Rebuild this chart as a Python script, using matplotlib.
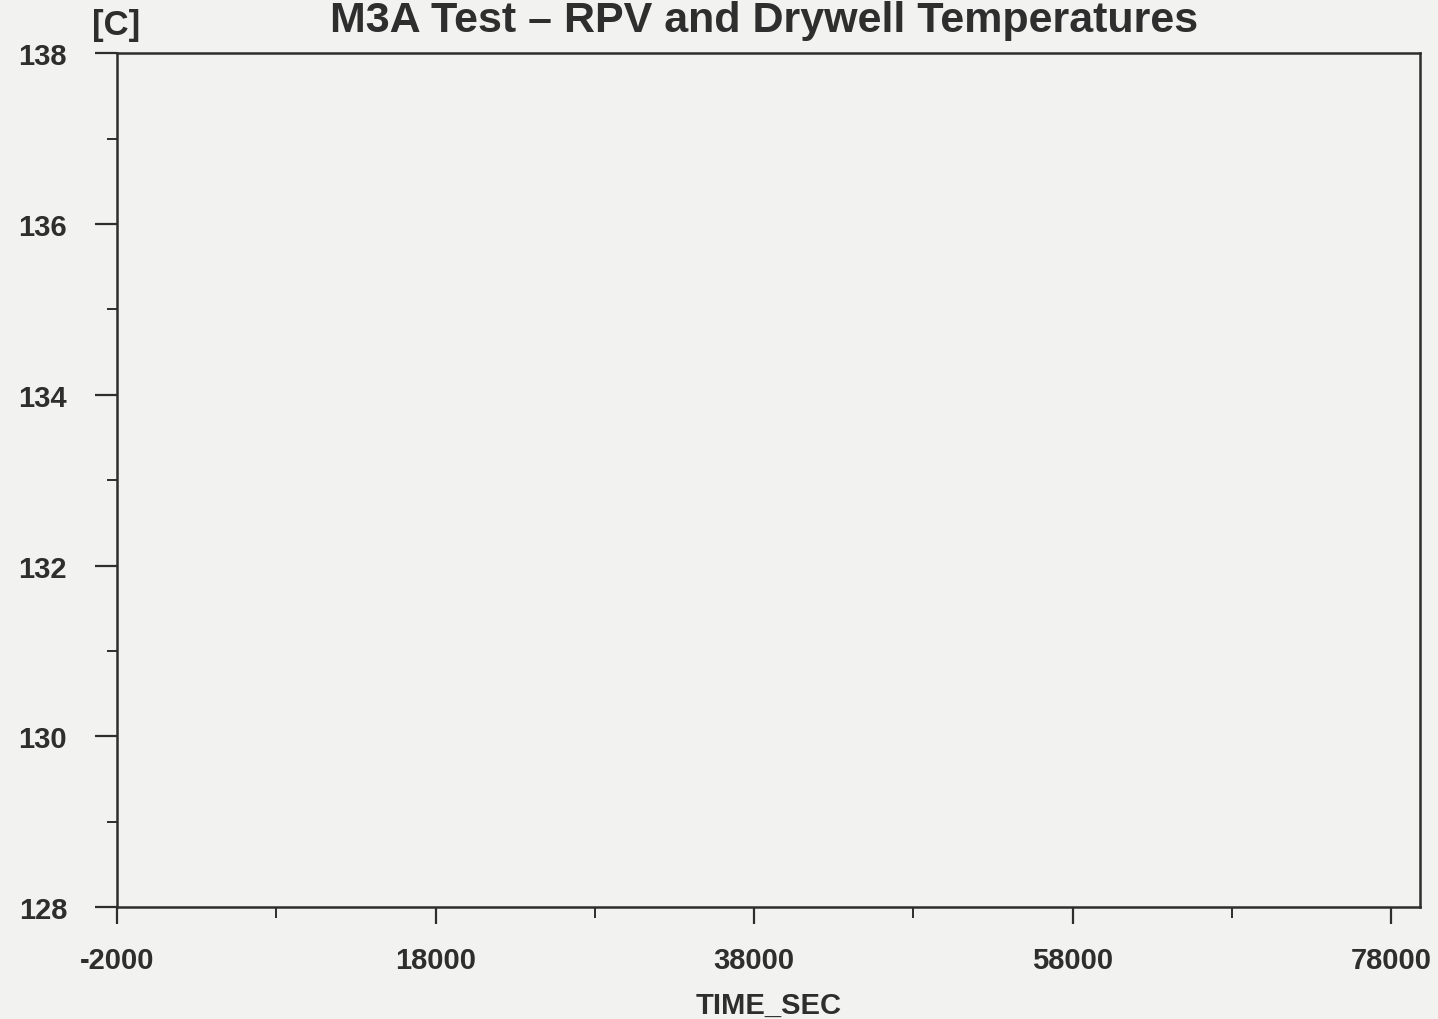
import matplotlib
matplotlib.use("Agg")
import matplotlib.pyplot as plt

plt.rcParams['font.family'] = ['Liberation Sans', 'DejaVu Sans']

title = "M3A Test \u2013 RPV and Drywell Temperatures"
y_unit = "[C]"
x_label = "TIME_SEC"
x_ticks = [-2000, 18000, 38000, 58000, 78000]
x_minor_ticks = [8000, 28000, 48000, 68000]
y_ticks = [128, 130, 132, 134, 136, 138]
y_minor_ticks = [129, 131, 133, 135, 137]
x_limits = [-2000, 79800]
y_limits = [128, 138]

ink = "#2e2e2e"
bg = "#f2f2f0"

fig = plt.figure(figsize=(14.38, 10.2), dpi=100, facecolor=bg)
ax = fig.add_axes([0.0814, 0.1098, 0.906, 0.837], facecolor=bg)
ax.set_xlim(*x_limits)
ax.set_ylim(*y_limits)
ax.set_xticks(x_ticks)
ax.set_xticks(x_minor_ticks, minor=True)
ax.set_yticks(y_ticks)
ax.set_yticks(y_minor_ticks, minor=True)
ax.set_xticklabels([str(v) for v in x_ticks], fontsize=21, fontweight='bold', color=ink)
ax.set_yticklabels([str(v) for v in y_ticks], fontsize=21, fontweight='bold', color=ink)
ax.tick_params(axis='y', which='major', direction='out', length=16, width=1.6, pad=20, colors=ink)
ax.tick_params(axis='y', which='minor', direction='out', length=7, width=1.4, colors=ink)
ax.tick_params(axis='x', which='major', direction='out', length=12, width=1.6, pad=16, colors=ink)
ax.tick_params(axis='x', which='minor', direction='out', length=8, width=1.4, colors=ink)
for s in ax.spines.values():
    s.set_color(ink)
    s.set_linewidth(1.8)

ax.set_xlabel(x_label, fontsize=21, fontweight='bold', color=ink, labelpad=12)
fig.text(0.531, 0.999, title, ha='center', va='top', fontsize=31, fontweight='bold', color=ink)
fig.text(0.064, 0.975, y_unit, ha='left', va='center', fontsize=25, fontweight='bold', color=ink)

fig.savefig("out.png", dpi=100, facecolor=bg)
